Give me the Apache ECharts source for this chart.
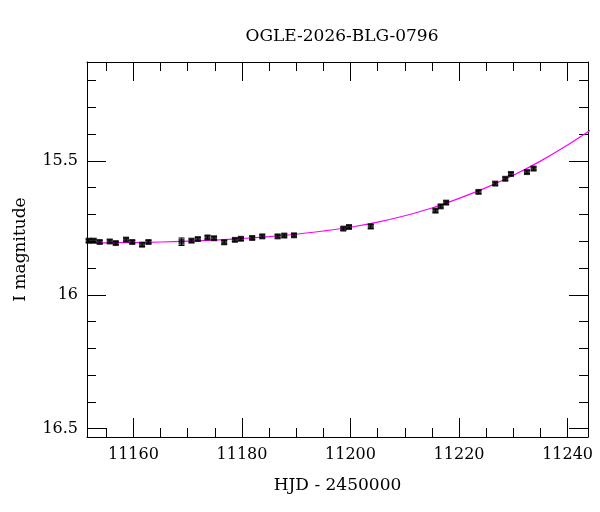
<!DOCTYPE html>
<html>
<head>
<meta charset="utf-8">
<script src="https://cdn.jsdelivr.net/npm/echarts@6/dist/echarts.min.js"></script>
<style>html,body{margin:0;padding:0;background:#fff;}#c{width:600px;height:512px;}</style>
</head>
<body>
<div id="c"></div>
<script>
const titleText = 'OGLE-2026-BLG-0796';
const xName = 'HJD - 2450000';
const yName = 'I magnitude';

const xMajor = [11160, 11180, 11200, 11220, 11240];
const xMinor = [11155, 11160, 11165, 11170, 11175, 11180, 11185, 11190, 11195, 11200, 11205, 11210, 11215, 11220, 11225, 11230, 11235, 11240];
const yMajor = [15.5, 16, 16.5];
const yMinor = [15.2, 15.3, 15.4, 15.5, 15.6, 15.7, 15.8, 15.9, 16.0, 16.1, 16.2, 16.3, 16.4, 16.5];

const hjd = [11151.75, 11152.68, 11153.78, 11155.63, 11156.74, 11158.64, 11159.78, 11161.59, 11162.77,
  11168.86, 11170.70, 11171.87, 11173.65, 11174.85, 11176.72, 11178.69, 11179.80, 11181.88, 11183.73,
  11186.57, 11187.79, 11189.58, 11198.67, 11199.72, 11203.73, 11215.65, 11216.61, 11217.62, 11223.58,
  11226.66, 11228.51, 11229.56, 11232.51, 11233.73];
const mag = [15.798, 15.798, 15.803, 15.801, 15.807, 15.794, 15.803, 15.813, 15.803,
  15.802, 15.798, 15.792, 15.786, 15.789, 15.804, 15.795, 15.791, 15.788, 15.782,
  15.782, 15.779, 15.778, 15.753, 15.747, 15.745, 15.686, 15.670, 15.656, 15.616,
  15.585, 15.567, 15.549, 15.542, 15.529];
const magErr = [0.006, 0.006, 0.006, 0.006, 0.006, 0.006, 0.006, 0.007, 0.006,
  0.014, 0.006, 0.006, 0.006, 0.006, 0.007, 0.006, 0.006, 0.006, 0.006,
  0.006, 0.006, 0.006, 0.006, 0.006, 0.008, 0.006, 0.006, 0.006, 0.006,
  0.006, 0.006, 0.006, 0.006, 0.006];

const modelHjd = [11150, 11155, 11160, 11165, 11170, 11175, 11180, 11185, 11190, 11195, 11200,
  11205, 11210, 11215, 11220, 11225, 11230, 11235, 11240, 11245];
const modelMag = [15.806, 15.806, 15.805, 15.803, 15.800, 15.796, 15.790, 15.783, 15.774, 15.762, 15.748,
  15.729, 15.705, 15.676, 15.640, 15.600, 15.554, 15.501, 15.441, 15.375];

const X_MIN = 11151.44, X_MAX = 11243.76;
const Y_MIN = 15.131, Y_MAX = 16.531;
const FONT = 'DejaVu Serif';

const chart = echarts.init(document.getElementById('c'), null, {renderer: 'canvas'});

function xAx(pos, values, len, showLine, showLabel, extra) {
  return Object.assign({
    type: 'value', position: pos, min: X_MIN, max: X_MAX,
    axisLine: {show: showLine, lineStyle: {color: '#000', width: 1}},
    axisTick: {show: true, inside: true, length: len, customValues: values, lineStyle: {color: '#000', width: 1}},
    axisLabel: showLabel ? {show: true, customValues: values, margin: 10, color: '#000', fontFamily: FONT, fontSize: 16,
      formatter: v => String(Math.round(v))} : {show: false},
    splitLine: {show: false}
  }, extra || {});
}
function yAx(pos, values, len, showLine, showLabel, extra) {
  return Object.assign({
    type: 'value', position: pos, min: Y_MIN, max: Y_MAX, inverse: true,
    axisLine: {show: showLine, lineStyle: {color: '#000', width: 1}},
    axisTick: {show: true, inside: true, length: len, customValues: values, lineStyle: {color: '#000', width: 1}},
    axisLabel: showLabel ? {show: true, customValues: values, margin: 9, color: '#000', fontFamily: FONT, fontSize: 16,
      formatter: v => String(+v.toFixed(1))} : {show: false},
    splitLine: {show: false}
  }, extra || {});
}

const pts = hjd.map((x, i) => [x, mag[i], magErr[i]]);
const model = modelHjd.map((x, i) => [x, modelMag[i]]);

chart.setOption({
  animation: false,
  backgroundColor: '#fff',
  title: {text: titleText, left: 337, textAlign: 'center', top: 23,
    textStyle: {fontFamily: FONT, fontSize: 17, fontWeight: 'normal', color: '#000'}},
  grid: {left: 87, top: 62, width: 501, height: 375, containLabel: false},
  xAxis: [
    xAx('bottom', xMajor, 19, true, true, {name: xName, nameLocation: 'middle', nameGap: 40,
      nameTextStyle: {fontFamily: FONT, fontSize: 17, color: '#000'}}),
    xAx('bottom', xMinor, 9, false, false),
    xAx('top', xMajor, 19, true, false),
    xAx('top', xMinor, 9, false, false)
  ],
  yAxis: [
    yAx('left', yMajor, 19, true, true, {name: yName, nameLocation: 'middle', nameGap: 58, nameRotate: 90,
      nameTextStyle: {fontFamily: FONT, fontSize: 17, color: '#000'}}),
    yAx('left', yMinor, 9, false, false),
    yAx('right', yMajor, 19, true, false),
    yAx('right', yMinor, 9, false, false)
  ],
  series: [
    {type: 'line', data: model, xAxisIndex: 0, yAxisIndex: 0, smooth: 0.3, symbol: 'none', clip: true,
      lineStyle: {color: '#ff00ff', width: 1.2}, z: 2},
    {type: 'custom', data: pts, xAxisIndex: 0, yAxisIndex: 0, z: 3,
      renderItem: function (params, api) {
        const x = api.value(0), y = api.value(1), e = api.value(2);
        const a = api.coord([x, y - e]), b = api.coord([x, y + e]);
        const s = {stroke: '#000', lineWidth: 1};
        return {type: 'group', children: [
          {type: 'line', shape: {x1: a[0], y1: a[1], x2: b[0], y2: b[1]}, style: s},
          {type: 'line', shape: {x1: a[0] - 3, y1: a[1], x2: a[0] + 3, y2: a[1]}, style: s},
          {type: 'line', shape: {x1: b[0] - 3, y1: b[1], x2: b[0] + 3, y2: b[1]}, style: s}
        ]};
      }},
    {type: 'scatter', data: pts.map(p => [p[0], p[1]]), xAxisIndex: 0, yAxisIndex: 0, symbol: 'rect', symbolSize: 6,
      itemStyle: {color: '#000'}, z: 4}
  ]
});
</script>
</body>
</html>
